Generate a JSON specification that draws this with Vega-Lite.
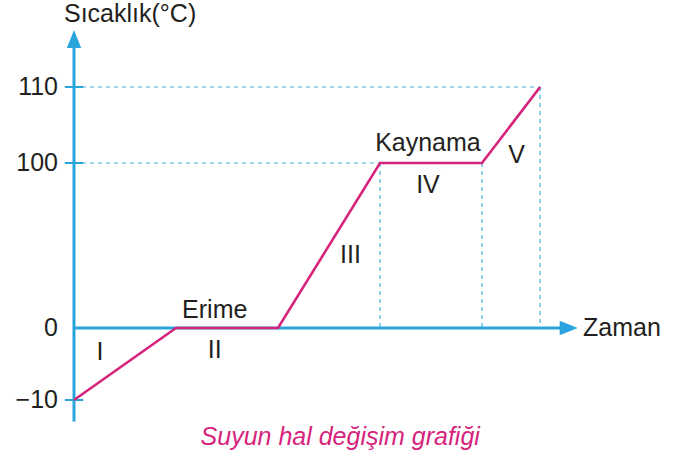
{
  "$schema": "https://vega.github.io/schema/vega-lite/v6.json",
  "width": 688,
  "height": 459,
  "autosize": {"type": "fit", "contains": "padding"},
  "padding": 0,
  "background": "white",
  "config": {"view": {"stroke": null}},
  "datasets": {
    "curve": [
      {"t": 0, "v": -10},
      {"t": 1, "v": 0},
      {"t": 2, "v": 0},
      {"t": 3, "v": 100},
      {"t": 4, "v": 100},
      {"t": 4.57, "v": 110}
    ],
    "dashes": [
      {"t": 0, "v": 110, "t2": 4.57, "v2": 110},
      {"t": 0, "v": 100, "t2": 3, "v2": 100},
      {"t": 3, "v": 100, "t2": 3, "v2": 0},
      {"t": 4, "v": 100, "t2": 4, "v2": 0},
      {"t": 4.57, "v": 110, "t2": 4.57, "v2": 0}
    ],
    "axes": [
      {"t": 0, "v": -13, "t2": 0, "v2": 116},
      {"t": 0, "v": 0, "t2": 4.85, "v2": 0}
    ],
    "ticks": [
      {"t": -0.09, "v": 110, "t2": 0.09, "v2": 110},
      {"t": -0.09, "v": 100, "t2": 0.09, "v2": 100},
      {"t": -0.09, "v": -10, "t2": 0.09, "v2": -10}
    ],
    "arrowUp": [{"t": 0, "v": 116.3}],
    "arrowRight": [{"t": 4.85, "v": 0}],
    "tickLabels": [
      {"t": -0.157, "v": 110, "label": "110"},
      {"t": -0.157, "v": 100, "label": "100"},
      {"t": -0.157, "v": 0, "label": "0"},
      {"t": -0.157, "v": -10, "label": "−10"}
    ],
    "centerLabels": [
      {"t": 0.55, "v": 119.6, "label": "Sıcaklık(°C)"},
      {"t": 1.38, "v": 10.9, "label": "Erime"},
      {"t": 1.38, "v": -3.06, "label": "II"},
      {"t": 0.255, "v": -3.3, "label": "I"},
      {"t": 2.71, "v": 44.2, "label": "III"},
      {"t": 3.47, "v": 102.6, "label": "Kaynama"},
      {"t": 3.47, "v": 86.7, "label": "IV"},
      {"t": 4.34, "v": 101.05, "label": "V"}
    ],
    "leftLabels": [
      {"t": 4.99, "v": 0, "label": "Zaman"}
    ],
    "caption": [
      {"t": 2.61, "v": -15.1, "label": "Suyun hal değişim grafiği"}
    ]
  },
  "encoding": {
    "x": {"field": "t", "type": "quantitative", "axis": null,
          "scale": {"domain": [-0.7255, 6.0196], "nice": false, "zero": false}},
    "y": {"field": "v", "type": "quantitative", "axis": null,
          "scale": {"domain": [-10, 0, 100, 110], "range": [400, 328, 163, 87], "nice": false, "zero": false}}
  },
  "layer": [
    {
      "data": {"name": "dashes"},
      "mark": {"type": "rule", "color": "#3fb4dc", "strokeWidth": 1.2, "strokeDash": [4, 4]},
      "encoding": {"x2": {"field": "t2"}, "y2": {"field": "v2"}}
    },
    {
      "data": {"name": "axes"},
      "mark": {"type": "rule", "color": "#2aa4dc", "strokeWidth": 3},
      "encoding": {"x2": {"field": "t2"}, "y2": {"field": "v2"}}
    },
    {
      "data": {"name": "ticks"},
      "mark": {"type": "rule", "color": "#2aa4dc", "strokeWidth": 2},
      "encoding": {"x2": {"field": "t2"}, "y2": {"field": "v2"}}
    },
    {
      "data": {"name": "arrowUp"},
      "mark": {"type": "point", "shape": "M0,-1L0.8,1L-0.8,1Z", "filled": true, "color": "#2aa4dc", "opacity": 1, "size": 324}
    },
    {
      "data": {"name": "arrowRight"},
      "mark": {"type": "point", "shape": "M1,0L-1,-0.8L-1,0.8Z", "filled": true, "color": "#2aa4dc", "opacity": 1, "size": 324}
    },
    {
      "data": {"name": "curve"},
      "mark": {"type": "line", "color": "#d6247d", "strokeWidth": 2.6}
    },
    {
      "data": {"name": "tickLabels"},
      "mark": {"type": "text", "align": "right", "baseline": "middle", "font": "Liberation Sans", "fontSize": 25, "color": "#231f20"},
      "encoding": {"text": {"field": "label"}}
    },
    {
      "data": {"name": "centerLabels"},
      "mark": {"type": "text", "align": "center", "baseline": "middle", "font": "Liberation Sans", "fontSize": 25, "color": "#231f20"},
      "encoding": {"text": {"field": "label"}}
    },
    {
      "data": {"name": "leftLabels"},
      "mark": {"type": "text", "align": "left", "baseline": "middle", "font": "Liberation Sans", "fontSize": 25, "color": "#231f20"},
      "encoding": {"text": {"field": "label"}}
    },
    {
      "data": {"name": "caption"},
      "mark": {"type": "text", "align": "center", "baseline": "middle", "font": "Liberation Sans", "fontSize": 25, "fontStyle": "italic", "color": "#d6247d"},
      "encoding": {"text": {"field": "label"}}
    }
  ]
}
